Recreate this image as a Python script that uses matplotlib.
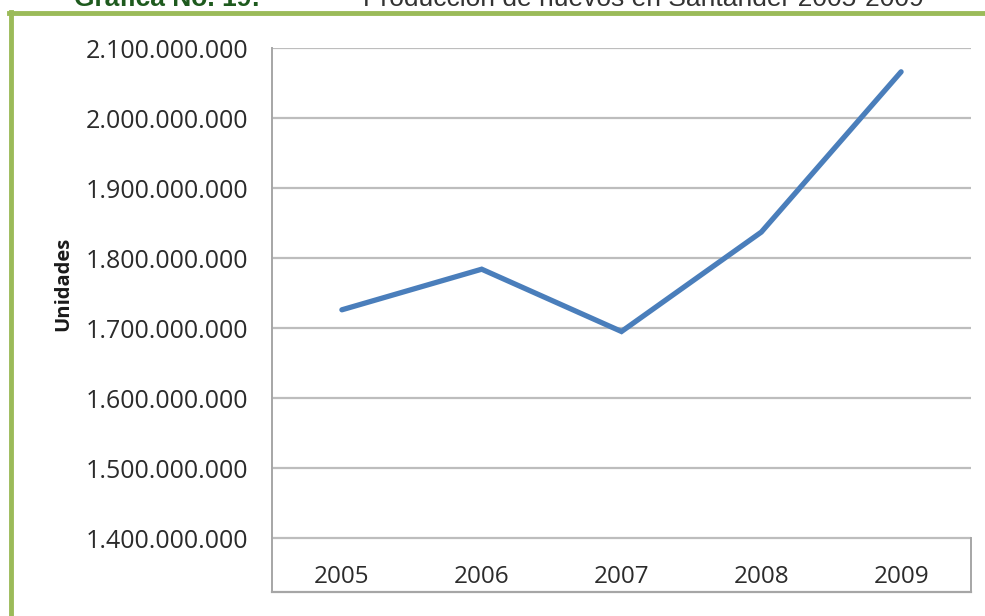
import matplotlib
matplotlib.use("Agg")
import matplotlib.pyplot as plt
from matplotlib.lines import Line2D
from matplotlib.ticker import FuncFormatter

years = ["2005", "2006", "2007", "2008", "2009"]
produccion = [1726000000, 1784000000, 1695000000, 1837000000, 2066000000]
y_ticks = [1400000000, 1500000000, 1600000000, 1700000000, 1800000000,
           1900000000, 2000000000, 2100000000]

W, H = 985, 616
fig = plt.figure(figsize=(W / 100, H / 100), dpi=100)
fig.patch.set_facecolor("white")

left, right, top, bottom = 272, 971, 48, 592
ax = fig.add_axes([left / W, 1 - bottom / H, (right - left) / W, (bottom - top) / H])

x = list(range(len(years)))
ax.plot(x, produccion, color="#4A7EBB", lw=3.8, solid_capstyle="round",
        solid_joinstyle="miter", zorder=3)

ax.set_xlim(-0.5, len(years) - 0.5)
ymax = 2100000000
ymin = ymax - (bottom - top) / 70 * 100000000
ax.set_ylim(ymin, ymax)

for yt in y_ticks:
    ax.axhline(yt, color="#BDBDBD", lw=1.6, zorder=1)

ax.set_yticks(y_ticks)
ax.yaxis.set_major_formatter(FuncFormatter(lambda v, p: f"{int(round(v)):,}".replace(",", ".")))
ax.tick_params(axis="y", length=0, pad=17, labelsize=18, labelcolor="#2b2b2b")
for lab in ax.get_yticklabels():
    lab.set_fontfamily("Open Sans")

ax.set_xticks(x)
ax.set_xticklabels(years)
ax.tick_params(axis="x", length=0, pad=-27 * 0.72, labelsize=17.5, labelcolor="#2b2b2b")
for lab in ax.get_xticklabels():
    lab.set_fontfamily("Open Sans")

for s in ["top", "right"]:
    ax.spines[s].set_visible(False)
ax.spines["left"].set_color("#A6A6A6")
ax.spines["left"].set_linewidth(1.4)
ax.spines["bottom"].set_color("#A6A6A6")
ax.spines["bottom"].set_linewidth(1.6)
ax.plot([1, 1], [0, (y_ticks[0] - ymin) / (ymax - ymin)], transform=ax.transAxes,
        color="#A6A6A6", lw=1.4, clip_on=False)

fig.text(63 / W, 1 - 284 / H, "Unidades", rotation=90, ha="center", va="center",
         fontsize=14.5, fontweight="bold", family="Open Sans", color="#1a1a1a")

# Title (cut at top, as in the reference)
fig.text(74 / W, 1 - 6 / H, "Gráfica No. 19:", ha="left", va="baseline",
         fontsize=19, fontweight="bold", family="Liberation Sans", color="#1E5A1E")
fig.text(363 / W, 1 - 6 / H, "Producción de huevos en Santander 2005-2009", ha="left",
         va="baseline", fontsize=19, family="Liberation Sans", color="#333333")

# Green frame
green = "#9BBB59"
fig.add_artist(Line2D([9 / W, 1], [1 - 13 / H, 1 - 13 / H], color=green, lw=3.5,
                      transform=fig.transFigure))
fig.add_artist(Line2D([11 / W, 11 / W], [0, 1 - 11.5 / H], color=green, lw=3.5,
                      transform=fig.transFigure))

fig.savefig("out.png", dpi=100)
